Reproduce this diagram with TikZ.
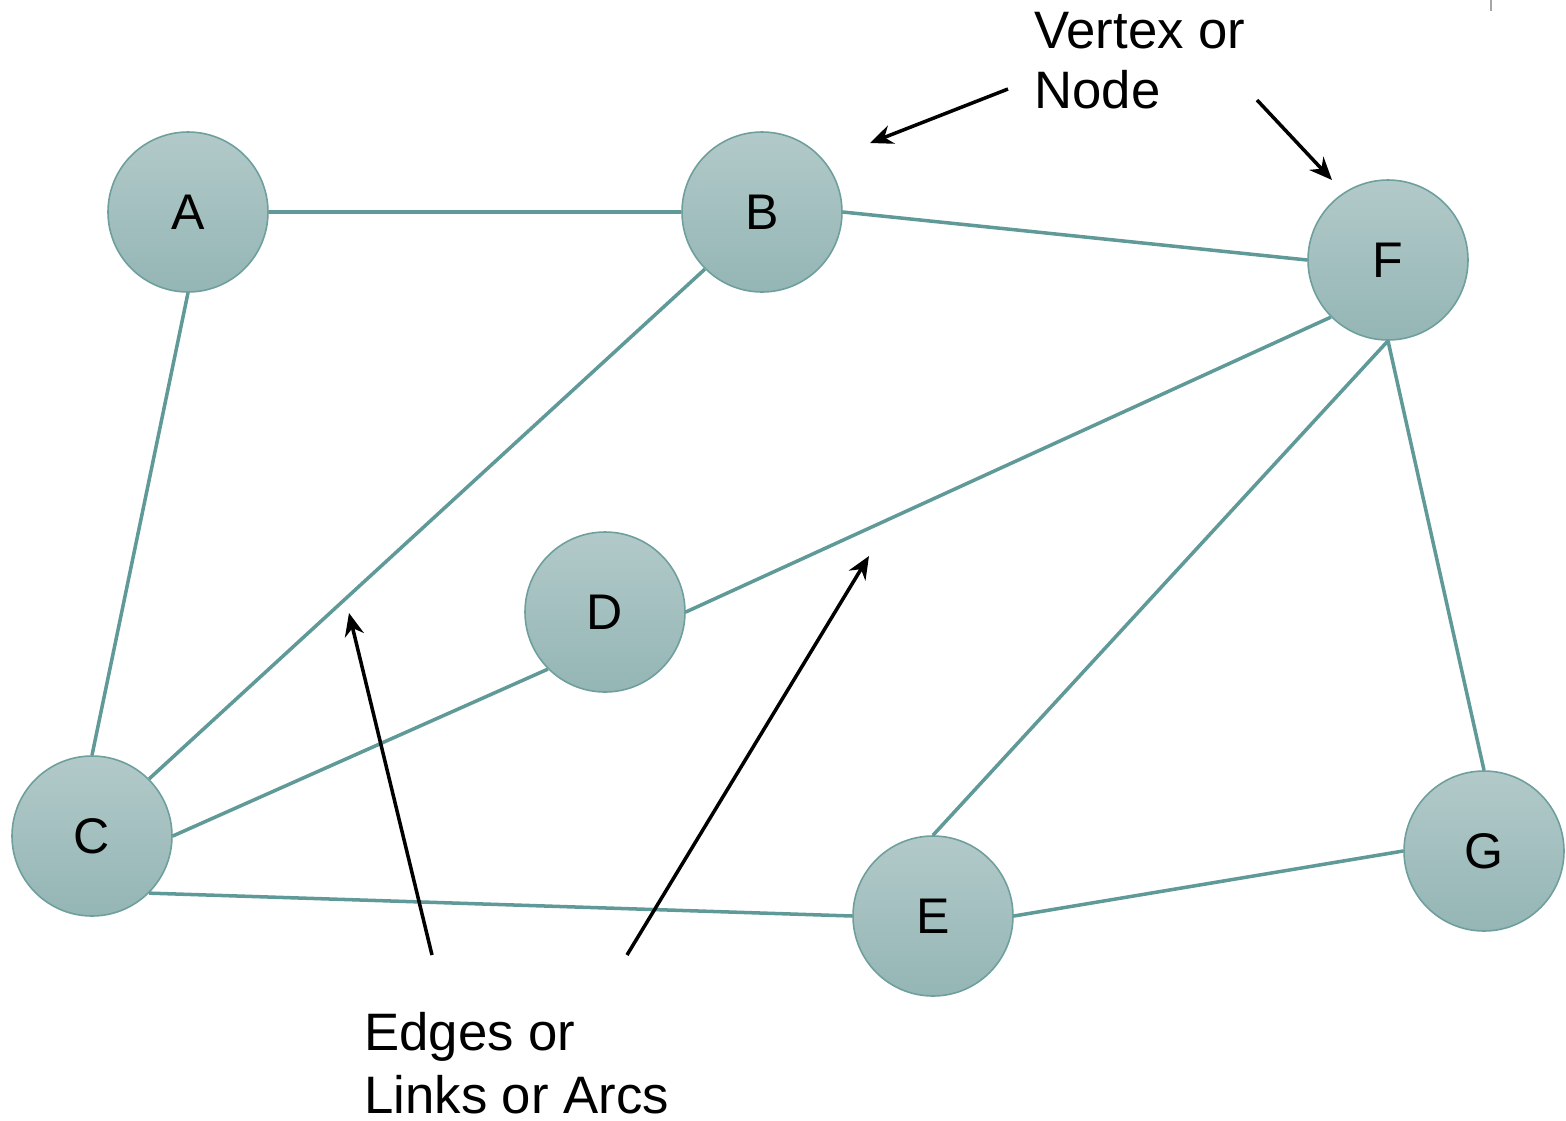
\documentclass[tikz,border=0pt]{standalone}
\usepackage{fontspec}
\setmainfont{Liberation Sans}
\usetikzlibrary{arrows.meta}
\definecolor{nodetop}{HTML}{B2C9C9}
\definecolor{nodebot}{HTML}{94B6B5}
\definecolor{nodeline}{HTML}{6E9F9D}
\definecolor{edgecol}{HTML}{5F9A98}
\tikzset{
  vertex/.style={circle, minimum size=160*0.02cm, inner sep=0pt,
    top color=nodetop, bottom color=nodebot, draw=nodeline, line width=0.9pt,
    font=\fontsize{28.5}{28.5}\selectfont},
  link/.style={draw=edgecol, line width=2pt},
  pointer/.style={draw=black, line width=2pt, -{Stealth[length=13pt, width=11pt]}},
  caption/.style={anchor=base west, inner sep=0pt, font=\fontsize{30}{30}\selectfont}
}
\begin{document}
\begin{tikzpicture}[x=0.02cm, y=-0.02cm]
  \useasboundingbox (0,0) rectangle (1566,1120);
  \fill[white] (0,0) rectangle (1566,1120);

  % vertices
  \node[vertex] (A) at (188,212) {A};
  \node[vertex] (B) at (762,212) {B};
  \node[vertex] (F) at (1388,260) {F};
  \node[vertex] (D) at (605,612) {D};
  \node[vertex] (C) at (92,836) {C};
  \node[vertex] (E) at (933,916) {E};
  \node[vertex] (G) at (1484,851) {G};

  % edges
  \draw[link] (A.east) -- (B.west);
  \draw[link] (B.east) -- (F.west);
  \draw[link] (A.south) -- (C.north);
  \draw[link] (B.south west) -- (C.north east);
  \draw[link] (D.east) -- (F.south west);
  \draw[link] (D.south west) -- (C.east);
  \draw[link] (C.south east) -- (E.west);
  \draw[link] (E.north) -- (F.south);
  \draw[link] (F.south) -- (G.north);
  \draw[link] (E.east) -- (G.west);

  % captions
  \node[caption] (v1) at (1034,48) {Vertex or};
  \node[caption] (v2) at (1034,108) {Node};
  \node[caption] (e1) at (364,1050) {Edges or};
  \node[caption] (e2) at (364,1113) {Links or Arcs};

  % pointers
  \coordinate (p1s) at (1008,89);  \coordinate (p1e) at (870,143);
  \coordinate (p2s) at (1257,100); \coordinate (p2e) at (1332,180);
  \coordinate (p3s) at (432,955);  \coordinate (p3e) at (349,613);
  \coordinate (p4s) at (627,955);  \coordinate (p4e) at (869,556);
  \draw[pointer] (p1s) -- (p1e);
  \draw[pointer] (p2s) -- (p2e);
  \draw[pointer] (p3s) -- (p3e);
  \draw[pointer] (p4s) -- (p4e);

  % small tick at the top edge
  \coordinate (t1) at (1491,0); \coordinate (t2) at (1491,11);
  \draw[gray!70, line width=1.2pt] (t1) -- (t2);
\end{tikzpicture}
\end{document}
